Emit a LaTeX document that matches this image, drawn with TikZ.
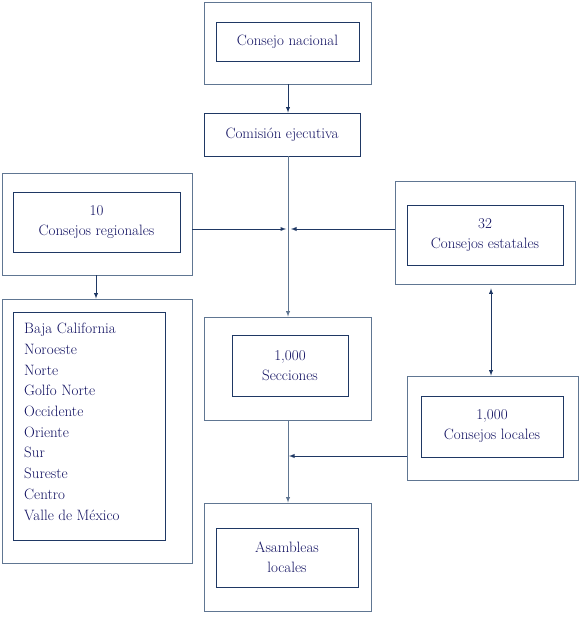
\documentclass[tikz,border=0pt]{standalone}
\usepackage{tikz}
\usetikzlibrary{arrows}
\usepackage{xcolor}
\definecolor{navyline}{RGB}{31,56,100}
\definecolor{greyline}{RGB}{96,118,146}
\definecolor{inktext}{RGB}{16,16,96}
\tikzset{
  outerbox/.style = {draw=greyline, line width=0.8pt, rectangle, inner sep=0pt},
  innerbox/.style = {draw=navyline, line width=0.8pt, rectangle, inner sep=0pt, text=inktext, align=center, font=\fontsize{15}{20}\selectfont},
  link/.style = {-latex, draw=navyline, line width=0.9pt}
}
\begin{document}
\begin{tikzpicture}[x=1pt, y=-1pt]
\useasboundingbox (0,0) rectangle (583,617);
% top of the chart
\node(nacOut) at (287.5, 43) [outerbox, minimum width=167pt, minimum height=82pt] {} ;
\node(nacIn) at (287.5, 41.5) [innerbox, minimum width=143pt, minimum height=39pt] {Consejo nacional} ;
\node(comision) at (282, 134.5) [innerbox, draw=navyline, minimum width=156pt, minimum height=43pt] {Comisi\'on ejecutiva} ;
% side councils
\node(regOut) at (97, 224) [outerbox, minimum width=190pt, minimum height=102pt] {} ;
\node(regIn) at (96.5, 222) [innerbox, minimum width=167pt, minimum height=60pt] {10\\Consejos regionales} ;
\node(estOut) at (485, 232.5) [outerbox, minimum width=180pt, minimum height=103pt] {} ;
\node(estIn) at (485, 235) [innerbox, minimum width=156pt, minimum height=60pt] {32\\Consejos estatales} ;
% list of regions
\node(listOut) at (97, 431) [outerbox, minimum width=190pt, minimum height=264pt] {} ;
\node(listIn) at (89, 426) [innerbox, minimum width=152pt, minimum height=228pt] {} ;
\node(listTxt) at (24, 323) [anchor=north west, inner sep=0pt, text=inktext, align=left, font=\fontsize{15}{20.7}\selectfont] {Baja California\\Noroeste\\Norte\\Golfo Norte\\Occidente\\Oriente\\Sur\\Sureste\\Centro\\Valle de M\'exico} ;
% lower part
\node(secOut) at (287.5, 368.5) [outerbox, minimum width=167pt, minimum height=103pt] {} ;
\node(secIn) at (290, 365.5) [innerbox, minimum width=116pt, minimum height=61pt] {1,000\\Secciones} ;
\node(locOut) at (492.5, 428) [outerbox, minimum width=171pt, minimum height=104pt] {} ;
\node(locIn) at (492, 426.5) [innerbox, minimum width=142pt, minimum height=61pt] {1,000\\Consejos locales} ;
\node(asaOut) at (287.5, 557) [outerbox, minimum width=167pt, minimum height=108pt] {} ;
\node(asaIn) at (287, 557.5) [innerbox, minimum width=142pt, minimum height=59pt] {Asambleas\\locales} ;
\coordinate(junc) at (288, 229) ;
\coordinate(locJoin) at (289, 456) ;
% connectors
\draw[link] (nacOut.south -| junc) -- (comision.north -| junc) ;
\draw[link, draw=greyline] (comision.south -| junc) -- (secOut.north -| junc) ;
\draw[link] (regOut.east |- junc) -- ([xshift=-2pt]junc) ;
\draw[link] (estOut.west |- junc) -- ([xshift=3pt]junc) ;
\draw[link] (regOut.south -| 96,0) -- (listOut.north -| 96,0) ;
\draw[latex-latex, draw=navyline, line width=0.9pt, shorten <=4pt] (estOut.south -| 491,0) -- (locOut.north -| 491,0) ;
\draw[link, draw=greyline] (secOut.south -| junc) -- (asaOut.north -| junc) ;
\draw[link] (locOut.west |- locJoin) -- (locJoin) ;
\end{tikzpicture}
\end{document}
